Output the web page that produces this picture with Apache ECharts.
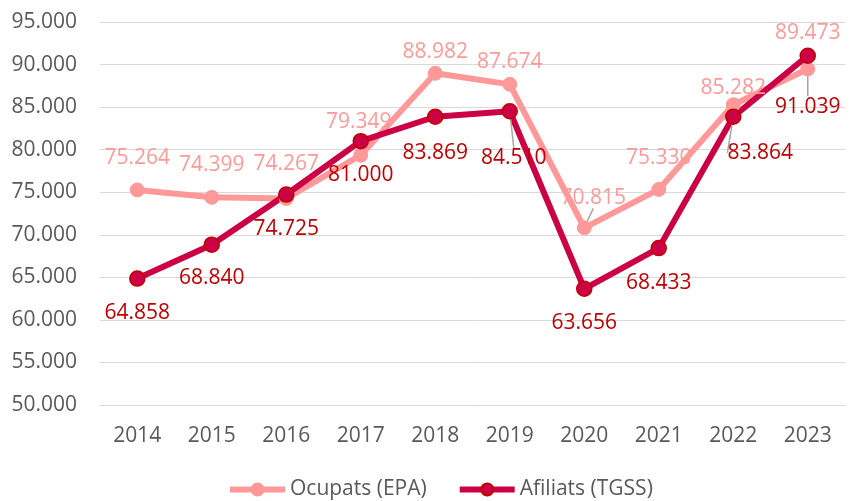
<!DOCTYPE html>
<html>
<head>
<meta charset="utf-8">
<script src="https://cdn.jsdelivr.net/npm/echarts@6/dist/echarts.min.js"></script>
<style>
  html, body { margin: 0; padding: 0; background: #fff; }
  #main { width: 851px; height: 501px; }
</style>
</head>
<body>
<div id="main"></div>
<script>
// anys
var years = ['2014', '2015', '2016', '2017', '2018', '2019', '2020', '2021', '2022', '2023'];
// Ocupats (EPA)
var ocupats = [75264, 74399, 74267, 79349, 88982, 87674, 70815, 75330, 85282, 89473];
// Afiliats (TGSS)
var afiliats = [64858, 68840, 74725, 81000, 83869, 84510, 63656, 68433, 83864, 91039];

// desplaçament de les etiquetes (px), com al gràfic d'Excel
var ocupatsOff = [[0, -32], [0, -32], [0, -34], [-2, -33], [0, -21], [0, -22], [9, -30], [0, -31], [0, -17], [0, -36]];
var afiliatsOff = [[0, 34], [0, 33], [0, 34], [0, 34], [0, 36], [4, 47], [0, 34], [0, 35], [27, 36], [0, 51]];
var ocupatsLead = [false, false, false, false, false, false, true, false, false, false];
var afiliatsLead = [false, false, false, false, false, true, false, false, true, true];

var FONT = 'Open Sans';

function fmt(v) {
    var k = Math.floor(v / 1000);
    var r = String(v % 1000);
    while (r.length < 3) r = '0' + r;
    return k + '.' + r;
}

function mkData(vals, lead) {
    return vals.map(function (v, i) {
        return { value: v, labelLine: { show: lead[i] } };
    });
}

var myChart = echarts.init(document.getElementById('main'));
var option = {
    animation: false,
    grid: { left: 100, right: 6, top: 22, bottom: 96 },
    legend: {
        bottom: -4,
        left: 222,
        itemWidth: 55,
        itemHeight: 15,
        itemGap: 30,
        lineStyle: { width: 6 },
        textStyle: { fontFamily: FONT, fontSize: 21, color: '#595959' },
        data: ['Ocupats (EPA)', 'Afiliats (TGSS)']
    },
    xAxis: {
        type: 'category',
        data: years,
        axisTick: { show: false },
        axisLine: { lineStyle: { color: '#d9d9d9', width: 1 } },
        axisLabel: { fontFamily: FONT, fontSize: 21, color: '#595959', margin: 21 }
    },
    yAxis: {
        type: 'value',
        min: 50000,
        max: 95000,
        interval: 5000,
        axisLine: { show: false },
        axisTick: { show: false },
        splitLine: { lineStyle: { color: '#d9d9d9', width: 1 } },
        axisLabel: {
            fontFamily: FONT, fontSize: 21, color: '#595959', margin: 23,
            formatter: fmt
        }
    },
    series: [
        {
            name: 'Ocupats (EPA)',
            type: 'line',
            data: mkData(ocupats, ocupatsLead),
            symbol: 'circle',
            symbolSize: 14,
            lineStyle: { color: '#ff9999', width: 6 },
            itemStyle: { color: '#ff9999', borderColor: '#ff9999', borderWidth: 1 },
            label: {
                show: true,
                position: 'inside',
                fontFamily: FONT,
                fontSize: 21,
                color: '#ff9999',
                formatter: function (p) { return fmt(p.value); }
            },
            labelLine: { lineStyle: { color: '#a6a6a6', width: 1.5 } },
            labelLayout: function (p) {
                var o = ocupatsOff[p.dataIndex];
                return { dx: o[0], dy: o[1] };
            }
        },
        {
            name: 'Afiliats (TGSS)',
            type: 'line',
            data: mkData(afiliats, afiliatsLead),
            symbol: 'circle',
            symbolSize: 15,
            lineStyle: { color: '#cc0044', width: 6 },
            itemStyle: { color: '#cc0044', borderColor: '#c00000', borderWidth: 1.5 },
            label: {
                show: true,
                position: 'inside',
                fontFamily: FONT,
                fontSize: 21,
                color: '#c00000',
                formatter: function (p) { return fmt(p.value); }
            },
            labelLine: { lineStyle: { color: '#a6a6a6', width: 1.5 } },
            labelLayout: function (p) {
                var o = afiliatsOff[p.dataIndex];
                return { dx: o[0], dy: o[1] };
            }
        }
    ]
};
myChart.setOption(option);
</script>
</body>
</html>
